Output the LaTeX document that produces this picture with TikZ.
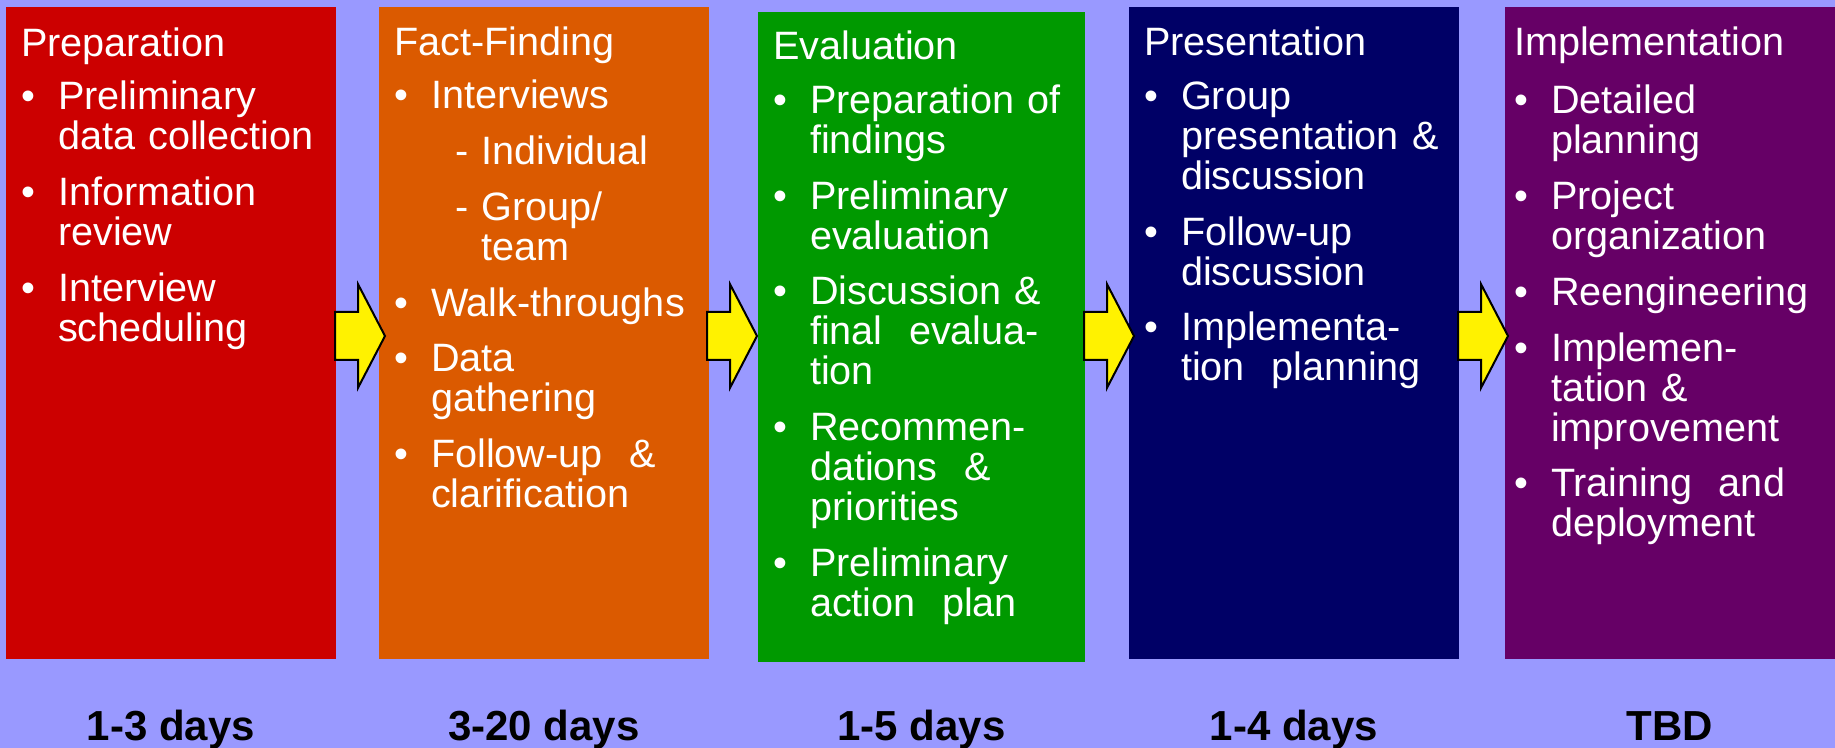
\documentclass[tikz,border=0pt]{standalone}
\usepackage{fontspec}
\setmainfont{Liberation Sans}
\usepackage{xcolor}
\usepackage{tikz}
\usetikzlibrary{shapes.arrows,calc}
\definecolor{lav}{HTML}{9999FF}
\definecolor{prepred}{HTML}{CC0000}
\definecolor{factorange}{HTML}{DB5A00}
\definecolor{evalgreen}{HTML}{009900}
\definecolor{presnavy}{HTML}{000066}
\definecolor{implpurple}{HTML}{660066}
\newenvironment{phaselist}[1][6.75pt]{\begin{list}{\textbullet}{%
	\setlength{\leftmargin}{18.5pt}\setlength{\labelwidth}{7pt}%
	\setlength{\labelsep}{11.5pt}\setlength{\topsep}{#1}%
	\setlength{\partopsep}{0pt}\setlength{\itemsep}{7.85pt}%
	\setlength{\parsep}{0pt}\setlength{\itemindent}{0pt}}}{\end{list}}
\newcommand{\subpoint}[1]{\hspace*{12pt}#1}

\begin{document}
\begin{tikzpicture}[x=0.5pt, y=-0.5pt,
					every node/.style = {inner sep=0, outer sep=0},
					phase/.style = {anchor=north west, minimum width=165pt, minimum height=326pt},
					tasks/.style = {anchor=base west, text width=155pt, align=left, text=white,
						font=\fontsize{19.8}{20}\selectfont},
					pointer/.style = {shape=single arrow, draw=black, line width=1pt, fill=yellow,
						inner xsep=0, inner ysep=11.5pt, minimum height=25pt,
						single arrow head extend=13.75pt, single arrow tip angle=125, anchor=tail},
					days/.style = {anchor=base, font=\fontsize{21}{22}\selectfont\bfseries}]
	\useasboundingbox (0,0) rectangle (1835,748);
	\fill[lav] (0,0) rectangle (1835,748);
	\coordinate (axis) at (0,336);
	\coordinate (dayrow) at (0,740);

	\node[phase, fill=prepred] (prep) at (6,7) {};
	\node[phase, fill=factorange] (fact) at (379,7) {};
	\node[phase, fill=evalgreen, minimum width=163.5pt, minimum height=324.75pt] (eval) at (758,12) {};
	\node[phase, fill=presnavy] (pres) at (1129,7) {};
	\node[phase, fill=implpurple] (impl) at (1505,7) {};

	\node[tasks] (prepText) at ($(prep.north west)+(15,49.5)$) {Preparation
		\begin{phaselist}
			\item Preliminary\\ data collection
			\item Information\\ review
			\item Interview\\ scheduling
		\end{phaselist}};
	\node[tasks] (factText) at ($(fact.north west)+(15,48.5)$) {Fact-Finding
		\begin{phaselist}
			\item Interviews\\[7.85pt]
				\subpoint{- Individual}\\[7.85pt]
				\subpoint{- Group/}\\
				\subpoint{\phantom{- }team}
			\item Walk-throughs
			\item Data\\ gathering
			\item Follow-up~~\&\\ clarification
		\end{phaselist}};
	\node[tasks] (evalText) at ($(eval.north west)+(15,48)$) {Evaluation
		\begin{phaselist}
			\item Preparation of\\ findings
			\item Preliminary\\ evaluation
			\item Discussion \&\\ final~~evalua-\\ tion
			\item Recommen-\\ dations~~\&\\ priorities
			\item Preliminary\\ action~~plan
		\end{phaselist}};
	\node[tasks] (presText) at ($(pres.north west)+(15,49)$) {Presentation
		\begin{phaselist}
			\item Group\\ presentation \&\\ discussion
			\item Follow-up\\ discussion
			\item Implementa-\\ tion~~planning
		\end{phaselist}};
	\node[tasks] (implText) at ($(impl.north west)+(9,49)$) {Implementation
		\begin{phaselist}[9pt]
			\item Detailed\\ planning
			\item Project\\ organization
			\item Reengineering
			\item Implemen-\\ tation \&\\ improvement
			\item Training~~and\\ deployment
		\end{phaselist}};

	\node[pointer] (toFact) at ($(prep.east |- axis)+(-1,0)$) {};
	\node[pointer] (toEval) at ($(fact.east |- axis)+(-2,0)$) {};
	\node[pointer] (toPres) at ($(eval.east |- axis)+(-1,0)$) {};
	\node[pointer] (toImpl) at ($(pres.east |- axis)+(-1,0)$) {};

	\node[days] (prepDays) at (prep.south |- dayrow) {1-3 days};
	\node[days] (factDays) at (fact.south |- dayrow) {3-20 days};
	\node[days] (evalDays) at (eval.south |- dayrow) {1-5 days};
	\node[days] (presDays) at (pres.south |- dayrow) {1-4 days};
	\node[days] (implDays) at (impl.south |- dayrow) {TBD};
\end{tikzpicture}
\end{document}
